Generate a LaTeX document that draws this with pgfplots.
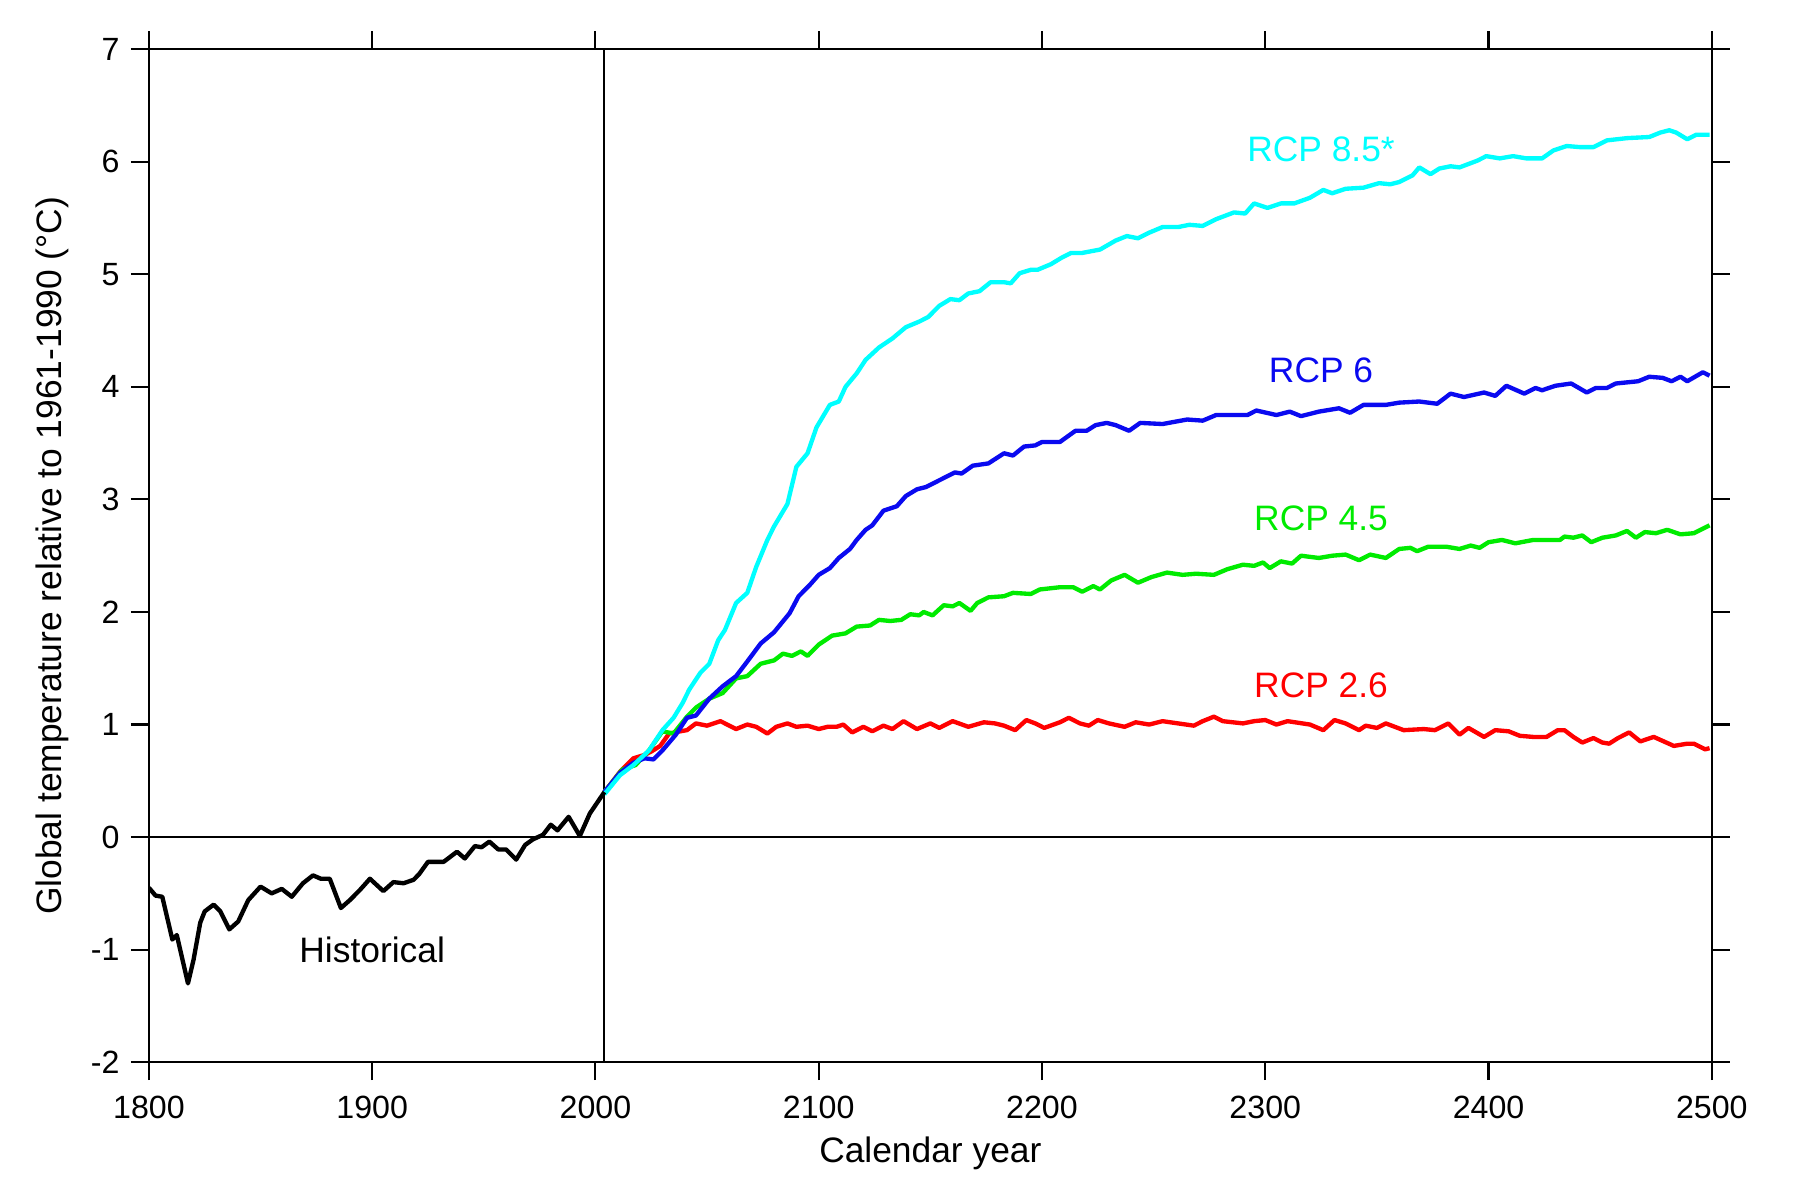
\documentclass[border=0pt]{standalone}
\usepackage{fontspec}
\setmainfont{Liberation Sans}
\usepackage{pgfplots}
\pgfplotsset{compat=1.18}

\definecolor{rcpcyan}{RGB}{0,255,255}
\definecolor{rcpblue}{RGB}{10,10,240}
\definecolor{rcpgreen}{RGB}{0,235,0}
\definecolor{rcpred}{RGB}{255,0,0}

\begin{document}
\begin{tikzpicture}
\useasboundingbox (-46.3pt,-36.4pt) rectangle (512.8pt,330.3pt);
\begin{axis}[
    scale only axis,
    width=486pt, height=315pt,
    xmin=1800, xmax=2500,
    ymin=-2, ymax=7,
    xtick={1800,1900,...,2500},
    ytick={-2,-1,...,7},
    tick align=outside,
    tick pos=both,
    xticklabel pos=bottom,
    yticklabel pos=left,
    major tick length=5.6pt,
    axis line style={line width=0.65pt},
    every tick/.style={black,line width=0.65pt},
    /pgf/number format/set thousands separator={},
    /pgf/number format/assume math mode=true,
    tick label style={font=\fontsize{10}{12}\selectfont},
    xticklabel shift=1.5pt,
    label style={font=\fontsize{11}{13}\selectfont},
    xlabel style={yshift=1.3pt},
    xlabel={Calendar year},
    ylabel={Global temperature relative to 1961-1990 (°C)},
    every axis plot/.append style={line width=1.35pt, line join=round},
    clip=true,
]
% reference lines
\addplot[black, line width=0.6pt] coordinates {(1800,0) (2500,0)};
\addplot[black, line width=0.6pt] coordinates {(2004,-2) (2004,7)};

% RCP 2.6
\addplot[rcpred] coordinates {
(2004,0.40)(2011,0.58)(2017,0.70)(2022,0.73)(2025,0.76)(2029,0.81)(2033,0.92)(2038,0.94)
(2041,0.95)(2045,1.01)(2050,0.99)(2056,1.03)(2063,0.96)(2068,1.00)(2072,0.98)(2077,0.92)
(2081,0.98)(2086,1.01)(2090,0.98)(2095,0.99)(2100,0.96)(2104,0.98)(2108,0.98)(2111,1.00)
(2115,0.93)(2120,0.98)(2124,0.94)(2129,0.99)(2133,0.96)(2138,1.03)(2144,0.96)(2150,1.01)
(2154,0.97)(2160,1.03)(2167,0.98)(2174,1.02)(2179,1.01)(2183,0.99)(2188,0.95)(2193,1.04)
(2197,1.01)(2201,0.97)(2208,1.02)(2212,1.06)(2217,1.01)(2221,0.99)(2225,1.04)(2230,1.01)
(2237,0.98)(2242,1.02)(2248,1.00)(2254,1.03)(2261,1.01)(2268,0.99)(2272,1.03)(2277,1.07)
(2281,1.03)(2290,1.01)(2295,1.03)(2300,1.04)(2305,1.00)(2310,1.03)(2320,1.00)(2326,0.95)
(2331,1.04)(2336,1.01)(2342,0.95)(2345,0.99)(2350,0.97)(2354,1.01)(2362,0.95)(2371,0.96)
(2376,0.95)(2382,1.01)(2387,0.91)(2391,0.97)(2398,0.89)(2403,0.95)(2409,0.94)(2414,0.90)
(2420,0.89)(2426,0.89)(2431,0.95)(2434,0.95)(2438,0.89)(2442,0.84)(2447,0.88)(2451,0.84)
(2454,0.83)(2458,0.88)(2463,0.93)(2468,0.85)(2474,0.89)(2483,0.81)(2489,0.83)(2492,0.83)
(2497,0.78)(2499,0.79)};

% RCP 4.5
\addplot[rcpgreen] coordinates {
(2004,0.40)(2012,0.60)(2018,0.64)(2024,0.77)(2030,0.94)(2035,0.92)(2041,1.07)(2045,1.15)
(2051,1.23)(2057,1.28)(2063,1.41)(2068,1.43)(2074,1.54)(2080,1.57)(2084,1.63)(2088,1.61)
(2092,1.65)(2095,1.61)(2100,1.71)(2106,1.79)(2112,1.81)(2117,1.87)(2123,1.88)(2127,1.93)
(2132,1.92)(2137,1.93)(2141,1.98)(2145,1.97)(2147,2.00)(2151,1.97)(2156,2.06)(2160,2.05)
(2163,2.08)(2168,2.01)(2171,2.08)(2176,2.13)(2183,2.14)(2187,2.17)(2195,2.16)(2199,2.20)
(2208,2.22)(2214,2.22)(2218,2.18)(2223,2.23)(2226,2.20)(2231,2.28)(2237,2.33)(2243,2.26)
(2249,2.31)(2256,2.35)(2263,2.33)(2269,2.34)(2277,2.33)(2283,2.38)(2290,2.42)(2295,2.41)
(2299,2.44)(2302,2.39)(2307,2.45)(2312,2.43)(2316,2.50)(2324,2.48)(2330,2.50)(2336,2.51)
(2342,2.46)(2347,2.51)(2354,2.48)(2360,2.56)(2365,2.57)(2368,2.54)(2373,2.58)(2381,2.58)
(2387,2.56)(2392,2.59)(2396,2.57)(2400,2.62)(2406,2.64)(2412,2.61)(2420,2.64)(2426,2.64)
(2432,2.64)(2434,2.67)(2438,2.66)(2442,2.68)(2446,2.62)(2451,2.66)(2457,2.68)(2462,2.72)
(2466,2.66)(2470,2.71)(2475,2.70)(2480,2.73)(2486,2.69)(2492,2.70)(2499,2.77)};

% RCP 6
\addplot[rcpblue] coordinates {
(2004,0.40)(2011,0.57)(2017,0.66)(2022,0.70)(2026,0.69)(2030,0.77)(2036,0.91)(2041,1.06)
(2045,1.08)(2051,1.23)(2057,1.34)(2063,1.43)(2068,1.56)(2074,1.72)(2080,1.82)(2087,1.99)
(2091,2.14)(2096,2.24)(2100,2.33)(2105,2.39)(2109,2.48)(2114,2.56)(2117,2.64)(2121,2.73)
(2124,2.77)(2129,2.90)(2135,2.94)(2139,3.03)(2144,3.09)(2148,3.11)(2154,3.17)(2161,3.24)
(2164,3.23)(2169,3.30)(2176,3.32)(2183,3.41)(2187,3.39)(2192,3.47)(2197,3.48)(2200,3.51)
(2208,3.51)(2215,3.61)(2220,3.61)(2224,3.66)(2229,3.68)(2233,3.66)(2239,3.61)(2244,3.68)
(2254,3.67)(2265,3.71)(2272,3.70)(2278,3.75)(2292,3.75)(2296,3.79)(2305,3.75)(2311,3.78)
(2316,3.74)(2324,3.78)(2333,3.81)(2338,3.77)(2344,3.84)(2354,3.84)(2360,3.86)(2369,3.87)
(2377,3.85)(2383,3.94)(2389,3.91)(2398,3.95)(2403,3.92)(2408,4.01)(2416,3.94)(2421,3.99)
(2424,3.97)(2430,4.01)(2437,4.03)(2444,3.95)(2448,3.99)(2453,3.99)(2457,4.03)(2467,4.05)
(2472,4.09)(2478,4.08)(2482,4.05)(2486,4.09)(2489,4.05)(2496,4.13)(2499,4.10)};

% RCP 8.5
\addplot[rcpcyan] coordinates {
(2004,0.38)(2011,0.55)(2017,0.64)(2024,0.77)(2030,0.95)(2035,1.06)(2039,1.19)(2042,1.31)
(2047,1.46)(2051,1.54)(2055,1.75)(2058,1.84)(2063,2.08)(2068,2.17)(2072,2.40)(2077,2.64)
(2080,2.76)(2086,2.96)(2090,3.29)(2095,3.41)(2099,3.64)(2105,3.84)(2109,3.87)(2112,4.00)
(2117,4.12)(2121,4.24)(2127,4.35)(2133,4.43)(2139,4.53)(2145,4.58)(2149,4.62)(2154,4.72)
(2159,4.78)(2163,4.77)(2167,4.83)(2172,4.85)(2177,4.93)(2183,4.93)(2186,4.92)(2190,5.01)
(2195,5.04)(2198,5.04)(2204,5.09)(2209,5.15)(2213,5.19)(2218,5.19)(2226,5.22)(2233,5.30)
(2238,5.34)(2243,5.32)(2248,5.37)(2254,5.42)(2261,5.42)(2266,5.44)(2272,5.43)(2278,5.49)
(2286,5.55)(2291,5.54)(2295,5.63)(2301,5.59)(2307,5.63)(2313,5.63)(2320,5.68)(2326,5.75)
(2330,5.72)(2336,5.76)(2344,5.77)(2351,5.81)(2356,5.80)(2360,5.82)(2366,5.88)(2369,5.95)
(2374,5.89)(2378,5.94)(2383,5.96)(2387,5.95)(2395,6.01)(2399,6.05)(2405,6.03)(2411,6.05)
(2417,6.03)(2424,6.03)(2429,6.10)(2435,6.14)(2441,6.13)(2447,6.13)(2453,6.19)(2462,6.21)
(2472,6.22)(2477,6.26)(2481,6.28)(2484,6.26)(2489,6.20)(2493,6.24)(2499,6.24)};

% Historical
\addplot[black] coordinates {
(1800,-0.45)(1803,-0.52)(1806,-0.53)(1810.5,-0.91)(1812.5,-0.87)(1817.5,-1.30)(1820,-1.09)
(1823,-0.76)(1825,-0.66)(1829,-0.60)(1832,-0.66)(1836,-0.82)(1840,-0.75)(1844.5,-0.56)
(1850,-0.44)(1855,-0.50)(1859.5,-0.46)(1864,-0.53)(1869,-0.41)(1873.5,-0.34)(1877,-0.37)
(1881,-0.37)(1886,-0.63)(1890,-0.56)(1894.5,-0.47)(1899,-0.37)(1905,-0.48)(1909.5,-0.40)
(1914,-0.41)(1918.5,-0.38)(1921,-0.33)(1925,-0.22)(1932,-0.22)(1938,-0.13)(1941.5,-0.19)
(1946,-0.08)(1949,-0.09)(1952.5,-0.04)(1956.5,-0.11)(1960,-0.11)(1964.5,-0.20)(1968.5,-0.07)
(1972,-0.02)(1976.5,0.02)(1980,0.11)(1983,0.06)(1988,0.18)(1993,0.01)(1997.5,0.21)(2004,0.40)};

\node[rcpcyan, font=\fontsize{11}{13}\selectfont] at (axis cs:2325,6.11) {RCP 8.5*};
\node[rcpblue, font=\fontsize{11}{13}\selectfont] at (axis cs:2325,4.15) {RCP 6};
\node[rcpgreen, font=\fontsize{11}{13}\selectfont] at (axis cs:2325,2.83) {RCP 4.5};
\node[rcpred, font=\fontsize{11}{13}\selectfont] at (axis cs:2325,1.35) {RCP 2.6};
\node[black, font=\fontsize{11}{13}\selectfont] at (axis cs:1900,-1.0) {Historical};
\end{axis}
\end{tikzpicture}
\end{document}
